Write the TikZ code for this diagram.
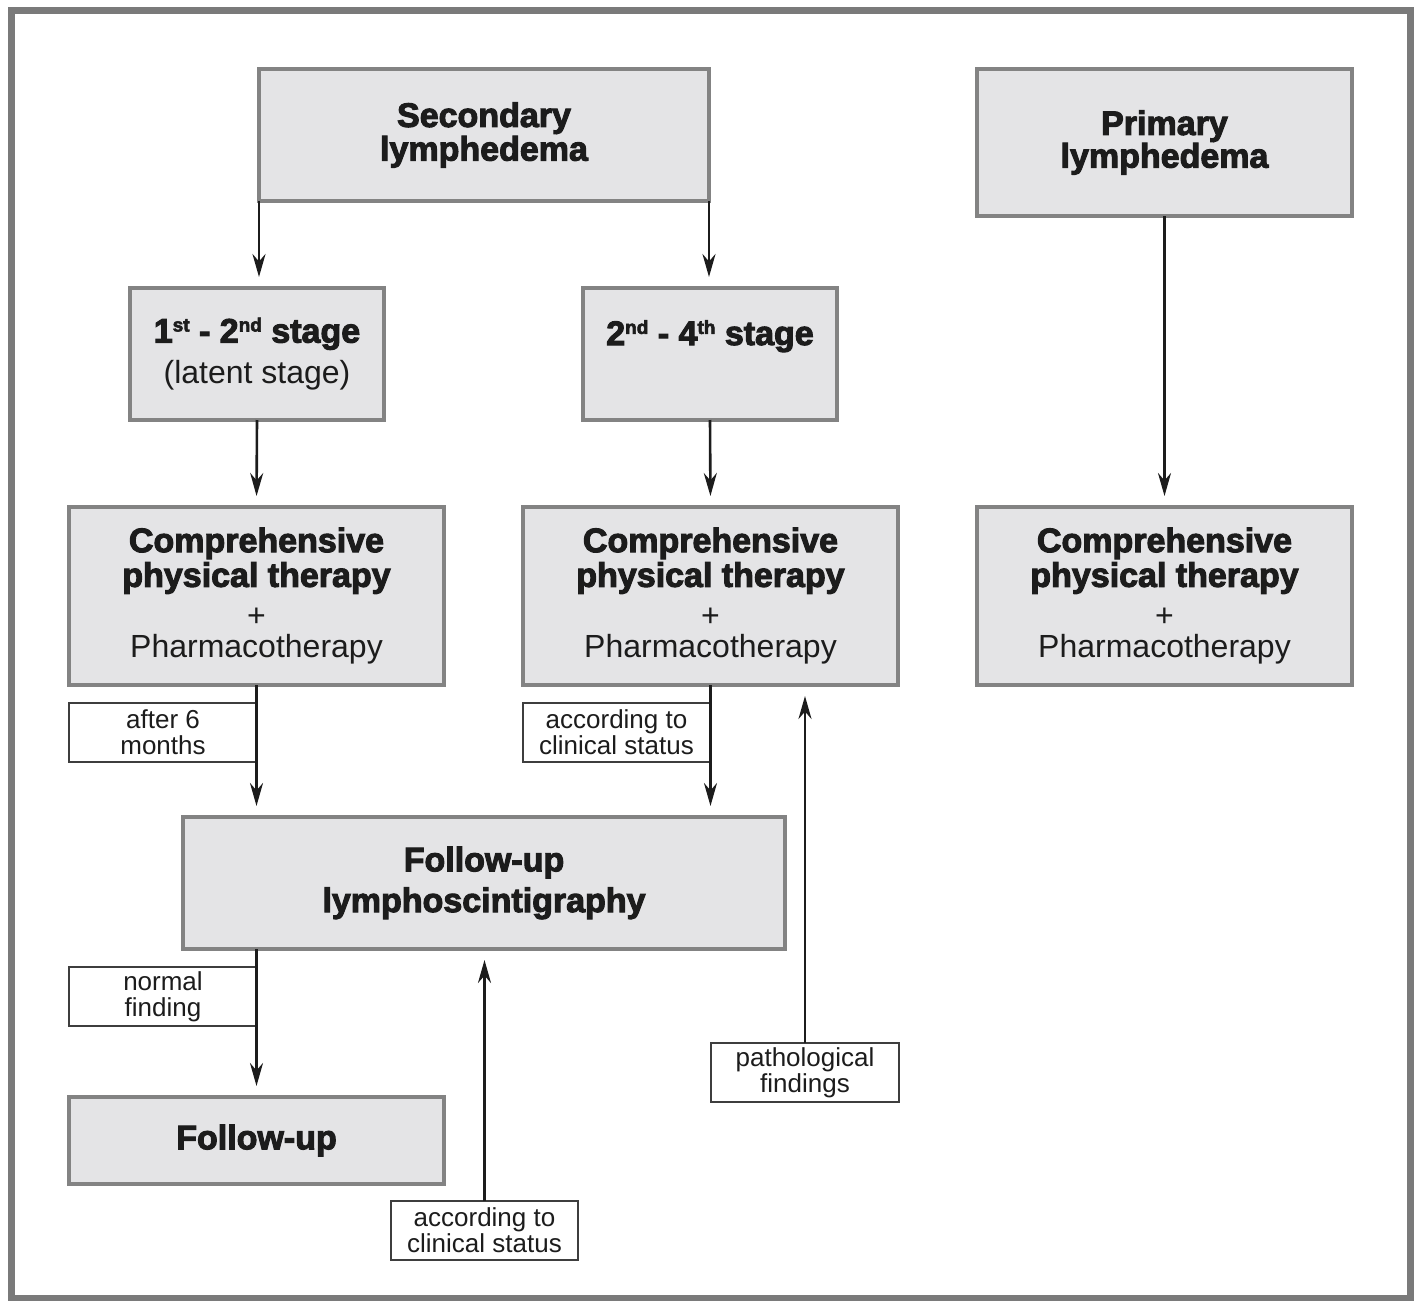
\documentclass[tikz,border=0pt]{standalone}
\usepackage{fontspec}
\setmainfont{Liberation Sans}[BoldFeatures={FakeBold=3}]
\usetikzlibrary{arrows.meta,calc}
\definecolor{boxfill}{HTML}{E4E4E6}
\definecolor{boxline}{HTML}{838383}
\definecolor{frame}{HTML}{7A7A7A}
\definecolor{ink}{HTML}{1C1C1C}
\newcommand{\sups}[1]{\raisebox{0.62ex}{\fontsize{19}{19}\selectfont #1}}
\newcommand{\hb}[1]{{\bfseries\fontsize{34}{31}\selectfont #1}}
\newcommand{\cpttext}{\hb{Comprehensive}\\[2pt]\hb{physical therapy}\\[9pt]{+}\\Pharmacotherapy}
\tikzset{
  box/.style={draw=boxline, fill=boxfill, line width=3.5pt, inner sep=0pt, outer sep=0pt, align=center, text=ink,
    font=\fontsize{32}{31}\selectfont},
  lbl/.style={draw=ink!85, fill=white, line width=1.4pt, inner sep=0pt, outer sep=0pt, align=center, text=ink,
    font=\fontsize{26}{26}\selectfont, minimum height=59pt},
  arr/.style={draw=ink, line width=2.6pt, -{Stealth[length=23pt,width=13pt]}, shorten >=11pt}
}
\begin{document}
\begin{tikzpicture}[x=1pt,y=-1pt]
\useasboundingbox (0,0) rectangle (1417,1301);
\draw[frame, line width=7pt] (11.5,10.5) rectangle (1410.5,1298);

% main boxes
\node[box, minimum width=450pt, minimum height=132pt] (sec) at (484,135)
  {\hb{Secondary}\\[1pt]\hb{lymphedema}};
\node[box, minimum width=375pt, minimum height=147pt] (prim) at (1164.5,142.5)
  {\hb{Primary}\\\hb{lymphedema}};
\node[box, minimum width=254pt, minimum height=132pt] (s12) at (257,354)
  {\hb{1\sups{st} - 2\sups{nd} stage}\\[10pt](latent stage)};
\node[box, minimum width=254pt, minimum height=132pt] (s24) at (710,354) {};
\node[text=ink, font=\bfseries\fontsize{34}{34}\selectfont, anchor=base] (s24t) at (710,345)
  {2\sups{nd} - 4\sups{th} stage};
\node[box, minimum width=375pt, minimum height=178pt] (cptL) at (256.5,596) {\cpttext};
\node[box, minimum width=375pt, minimum height=178pt] (cptM) at (710.5,596) {\cpttext};
\node[box, minimum width=375pt, minimum height=178pt] (cptR) at (1164.5,596) {\cpttext};
\node[box, minimum width=602pt, minimum height=132pt] (ful) at (484,883)
  {\hb{Follow-up}\\[8pt]\hb{lymphoscintigraphy}};
\node[box, minimum width=375pt, minimum height=87pt] (fu) at (256.5,1140.5)
  {\hb{Follow-up}};

% label boxes
\node[lbl, minimum width=188pt] (l1) at (163,732.5) {after 6\\months};
\node[lbl, minimum width=187pt] (l2) at (616.5,732.5) {according to\\clinical status};
\node[lbl, minimum width=188pt] (l3) at (163,996.5) {normal\\finding};
\node[lbl, minimum width=188pt] (l4) at (805,1072.5) {pathological\\findings};
\node[lbl, minimum width=187pt] (l5) at (484.5,1230.5) {according to\\clinical status};

% connectors
\draw[arr] (sec.south west) -- (sec.south west |- s12.north);
\draw[arr] (sec.south east) -- (sec.south east |- s24.north);
\draw[arr] (s12.south) -- (cptL.north);
\draw[arr] (s24.south) -- (cptM.north);
\draw[arr] (prim.south) -- (cptR.north);
\draw[arr] (cptL.south) -- (cptL.south |- ful.north);
\draw[arr] (cptM.south) -- (cptM.south |- ful.north);
\draw[arr] (fu.north |- ful.south) -- (fu.north);
\draw[arr] (l5.north) -- (l5.north |- ful.south);
\draw[arr] (l4.north) -- (l4.north |- cptM.south);
\end{tikzpicture}
\end{document}
